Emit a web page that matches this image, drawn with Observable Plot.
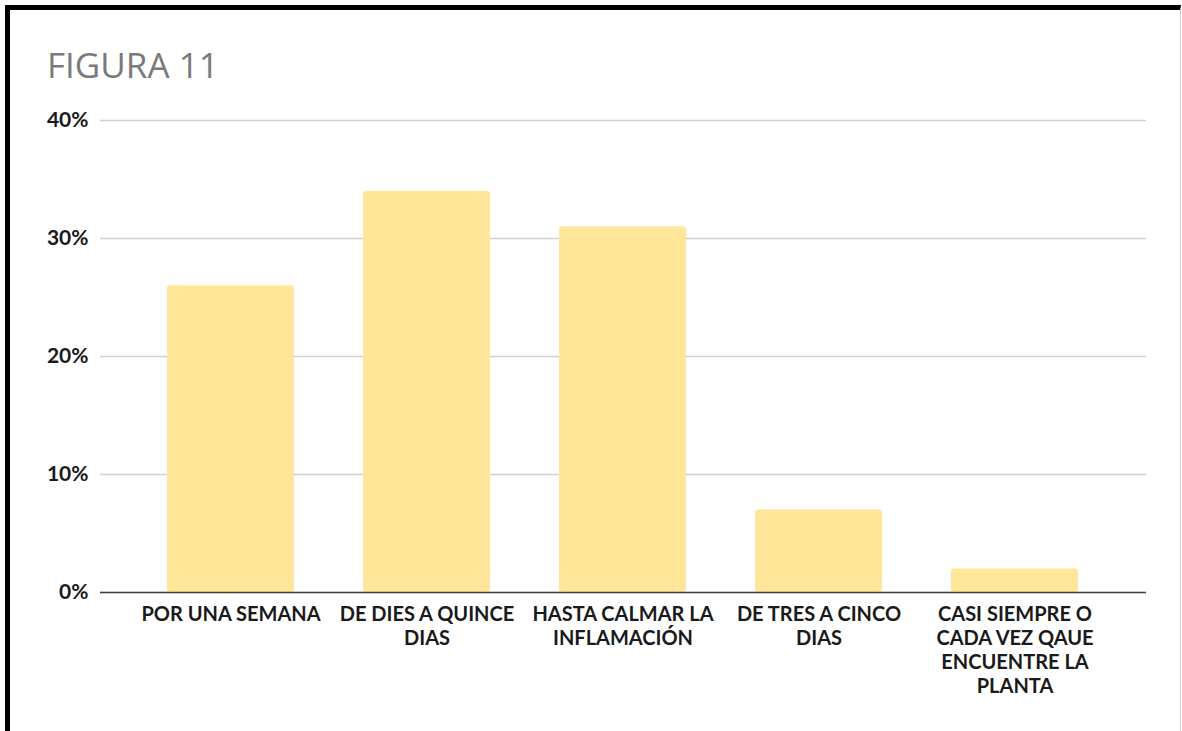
<!DOCTYPE html>
<html>
<head>
<meta charset="utf-8">
<script src="https://cdn.jsdelivr.net/npm/d3@7"></script>
<script src="https://cdn.jsdelivr.net/npm/@observablehq/plot@0.6"></script>
<style>
  html, body { margin: 0; padding: 0; background: #fff; width: 1182px; height: 731px; overflow: hidden; }
  #frame { position: absolute; left: 5px; top: 5px; width: 1170px; height: 740px;
           border-left: 5px solid #000; border-top: 5px solid #000; border-right: 1px solid #d0d0d0; }
  #title { position: absolute; left: 47px; top: 41px; font-family: "Open Sans", sans-serif;
           font-size: 35px; color: #7a7a7a; font-weight: 400; letter-spacing: 0px; }
  #chart { position: absolute; left: 0; top: 90px; }
</style>
</head>
<body>
<div id="frame"></div>
<div id="title">FIGURA 11</div>
<div id="chart"></div>
<script>
const categories = [
  "POR UNA SEMANA",
  "DE DIES A QUINCE DIAS",
  "HASTA CALMAR LA INFLAMACIÓN",
  "DE TRES A CINCO DIAS",
  "CASI SIEMPRE O CADA VEZ QAUE ENCUENTRE LA PLANTA"
];
const tickLabels = [
  "POR UNA SEMANA",
  "DE DIES A QUINCE\nDIAS",
  "HASTA CALMAR LA\nINFLAMACIÓN",
  "DE TRES A CINCO\nDIAS",
  "CASI SIEMPRE O\nCADA VEZ QAUE\nENCUENTRE LA\nPLANTA"
];
const values = [0.26, 0.34, 0.31, 0.07, 0.02];
const yTicks = [0, 0.1, 0.2, 0.3, 0.4];

const data = categories.map((c, i) => ({category: c, value: values[i]}));
const labelOf = new Map(categories.map((c, i) => [c, tickLabels[i]]));

const chart = Plot.plot({
  width: 1182,
  height: 641,
  marginTop: 30,
  marginBottom: 139,
  marginLeft: 100,
  marginRight: 36,
  style: {fontFamily: "Lato, sans-serif", background: "transparent"},
  x: {domain: categories, paddingInner: 0.35, paddingOuter: 0.34, label: null},
  y: {domain: [0, 0.4], label: null},
  marks: [
    Plot.gridY(yTicks, {stroke: "#d0d0d0", strokeOpacity: 1, strokeWidth: 1.5}),
    Plot.barY(data, {x: "category", y: "value", fill: "#FFE699", rx: 3}),
    Plot.ruleY([0], {stroke: "#404040", strokeWidth: 1.6}),
    Plot.axisY(yTicks, {tickSize: 0, tickPadding: 12, tickFormat: d => Math.round(d * 100) + "%",
      fontSize: 21, fontWeight: "bold", fill: "#1a1a1a", label: null}),
    Plot.axisX({tickSize: 0, tickPadding: 11, tickFormat: d => labelOf.get(d),
      fontSize: 20, fontWeight: "bold", fill: "#1a1a1a", lineHeight: 1.2, label: null})
  ]
});
document.getElementById("chart").appendChild(chart);
</script>
</body>
</html>
